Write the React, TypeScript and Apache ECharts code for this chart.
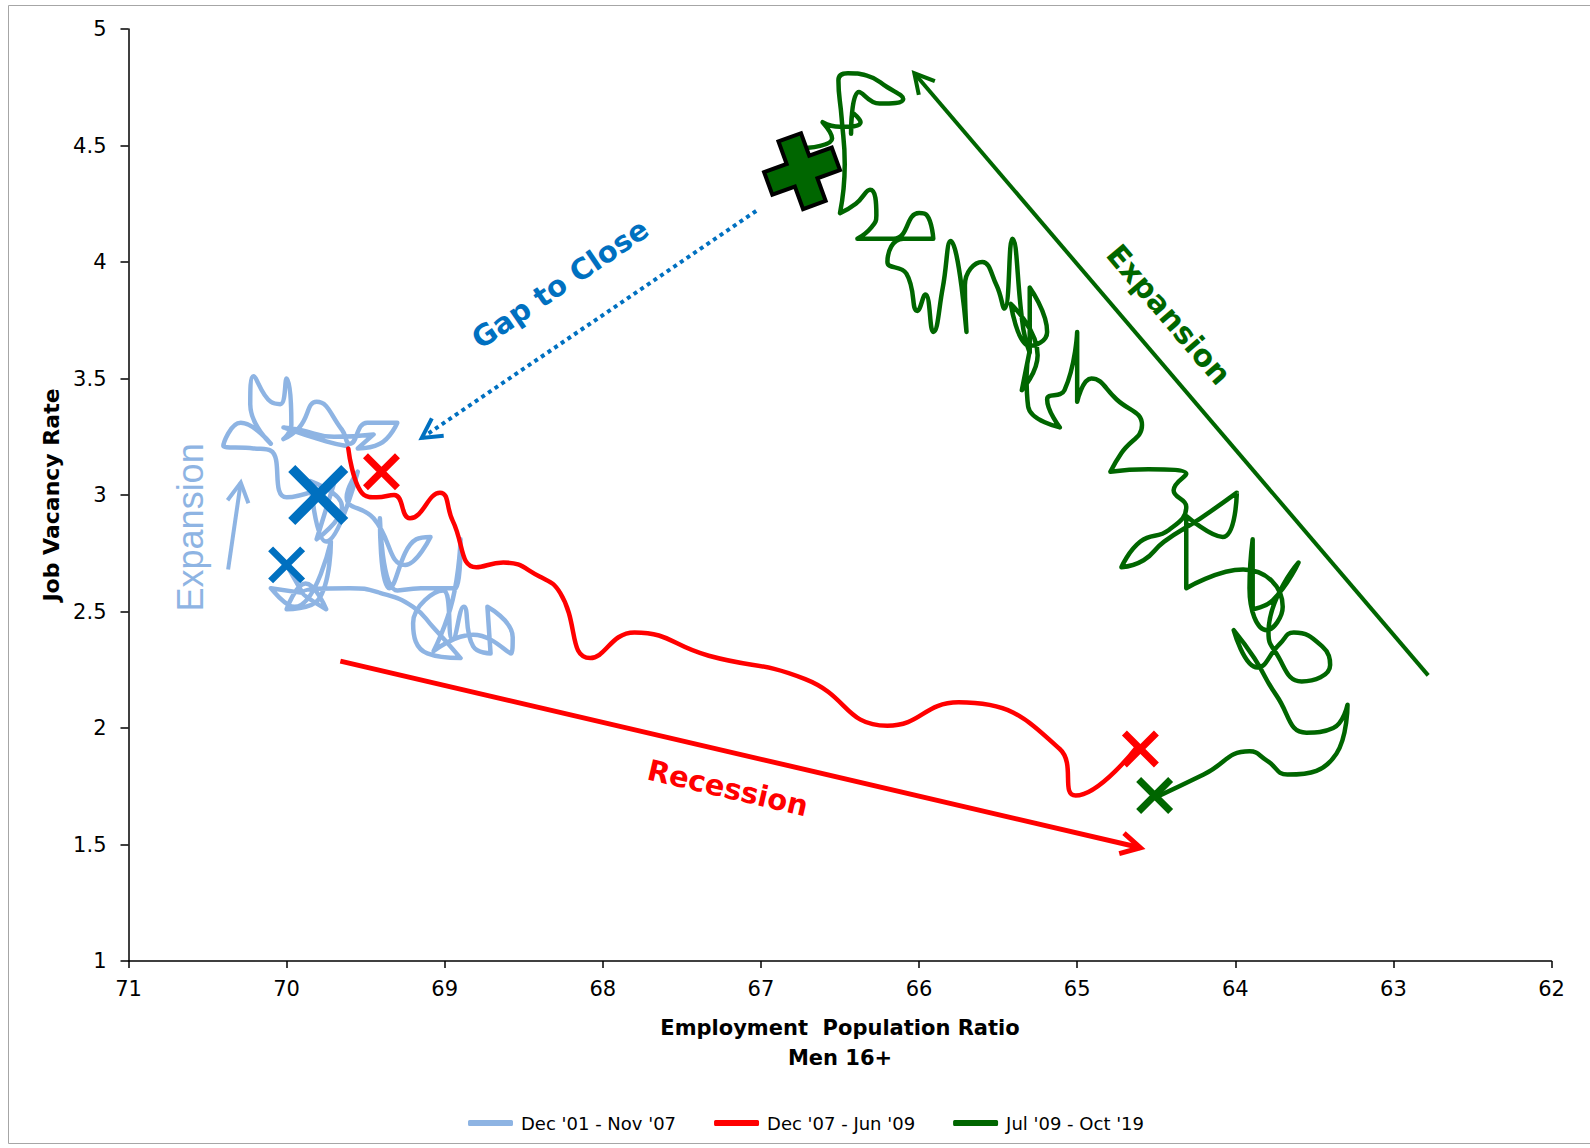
import React, { useEffect, useRef } from "react";
import * as echarts from "echarts";

// ---- axes ----
const X_MIN = 62;
const X_MAX = 71;
const X_STEP = 1;
const Y_MIN = 1;
const Y_MAX = 5;
const Y_STEP = 0.5;

const X_TITLE = "Employment  Population Ratio\nMen 16+";
const Y_TITLE = "Job Vacancy Rate";

// ---- series ----
const seriesNames = ["Dec '01 - Nov '07", "Dec '07 - Jun '09", "Jul '09 - Oct '19"];
const seriesColors = ["#8EB4E3", "#FF0000", "#006600"];

// [employment population ratio, job vacancy rate]
const expansion0107: number[][] = [
  [70.0, 2.7], [69.9, 2.58], [70.1, 2.6], [69.95, 2.52], [69.72, 2.8], [69.8, 2.55],
  [70.0, 2.51], [69.88, 2.62], [69.75, 2.51], [69.9, 2.58], [69.6, 2.6], [69.41, 2.58],
  [69.2, 2.52], [69.07, 2.43], [68.9, 2.3], [69.11, 2.32], [69.2, 2.45], [69.01, 2.59],
  [68.95, 2.38], [68.88, 2.52], [68.82, 2.35], [68.71, 2.32], [68.73, 2.52], [68.57, 2.39],
  [68.58, 2.32], [68.82, 2.4], [69.07, 2.33], [68.95, 2.55], [68.9, 2.81], [68.93, 2.6],
  [69.15, 2.6], [69.3, 2.59], [69.41, 2.9], [69.35, 2.6], [69.18, 2.81], [69.09, 2.82],
  [69.25, 2.7], [69.45, 2.9], [69.62, 2.99], [69.55, 3.1], [69.75, 2.8], [69.85, 3.06],
  [69.65, 2.95], [69.81, 2.81], [69.7, 3.05], [70.0, 2.99], [70.1, 3.19], [70.21, 3.2],
  [70.4, 3.21], [70.29, 3.31], [70.1, 3.22], [70.23, 3.39], [70.21, 3.51], [70.1, 3.4],
  [70.04, 3.39], [70.0, 3.5], [69.97, 3.3], [70.02, 3.24], [69.92, 3.29], [69.81, 3.4],
  [69.65, 3.28], [69.6, 3.22], [69.49, 3.31], [69.3, 3.31], [69.41, 3.22], [69.55, 3.2],
  [69.45, 3.26], [69.7, 3.25], [69.92, 3.28], [70.02, 3.29], [69.75, 3.23], [69.62, 3.21],
];

const recession0709: number[][] = [
  [69.61, 3.2], [69.51, 3.0], [69.43, 2.99], [69.32, 3.0], [69.22, 2.9], [69.03, 3.01],
  [68.95, 2.89], [68.8, 2.69], [68.63, 2.71], [68.4, 2.65], [68.27, 2.58], [68.08, 2.3],
  [67.8, 2.41], [67.33, 2.31], [66.72, 2.21], [66.2, 2.01], [65.75, 2.11], [65.11, 1.91],
  [65.01, 1.71], [64.62, 1.92],
];

const expansion0919: number[][] = [
  [64.51, 1.7], [64.2, 1.8], [63.91, 1.9], [63.8, 1.86], [63.67, 1.8], [63.36, 1.89],
  [63.29, 2.1], [63.38, 2.0], [63.55, 1.98], [63.74, 2.14], [63.88, 2.3], [64.01, 2.42],
  [63.86, 2.26], [63.72, 2.36], [63.63, 2.41], [63.45, 2.35], [63.4, 2.27], [63.58, 2.2],
  [63.75, 2.33], [63.79, 2.41], [63.6, 2.71], [63.76, 2.55], [63.89, 2.51], [63.89, 2.81],
  [63.91, 2.6], [63.8, 2.42], [63.7, 2.52], [63.95, 2.68], [64.31, 2.6], [64.31, 2.91],
  [64.08, 2.82], [63.99, 3.01], [64.22, 2.9], [64.45, 2.8], [64.58, 2.72], [64.72, 2.69],
  [64.6, 2.8], [64.42, 2.85], [64.31, 2.95], [64.39, 3.02], [64.31, 3.09], [64.55, 3.11],
  [64.79, 3.1], [64.72, 3.18], [64.59, 3.3], [64.75, 3.41], [64.91, 3.5], [65.0, 3.4],
  [65.0, 3.7], [65.08, 3.45], [65.19, 3.41], [65.11, 3.29], [65.31, 3.38], [65.32, 3.51],
  [65.3, 3.62], [65.35, 3.45], [65.25, 3.6], [65.42, 3.82], [65.3, 3.64], [65.19, 3.7],
  [65.3, 3.89], [65.3, 3.61], [65.34, 3.71], [65.41, 4.1], [65.46, 3.8], [65.51, 3.9],
  [65.6, 4.0], [65.71, 3.9], [65.7, 3.7], [65.8, 4.09], [65.85, 3.89], [65.91, 3.7],
  [65.96, 3.86], [66.01, 3.79], [66.08, 3.95], [66.2, 4.0], [66.1, 4.1], [65.91, 4.1],
  [65.95, 4.2], [66.0, 4.21], [66.16, 4.1], [66.39, 4.1], [66.3, 4.15], [66.27, 4.2],
  [66.31, 4.31], [66.4, 4.25], [66.5, 4.21], [66.47, 4.42], [66.49, 4.62], [66.51, 4.78],
  [66.45, 4.81], [66.33, 4.8], [66.2, 4.75], [66.1, 4.7], [66.25, 4.68], [66.38, 4.73],
  [66.43, 4.55], [66.42, 4.64], [66.37, 4.6], [66.5, 4.58], [66.61, 4.6], [66.55, 4.53],
  [66.7, 4.49],
];

// ---- highlighted points ----
const blueBigMark = [[69.8, 3.0]];
const blueSmallMark = [[70.0, 2.7]];
const redMarks = [[69.4, 3.1], [64.6, 1.91]];
const greenMark = [[64.51, 1.71]];
const targetMark = [[66.74, 4.39]];

// ---- annotations (data coordinates) ----
const recessionArrow = [[69.66, 2.287], [64.6, 1.486]];
const greenArrow = [[62.78, 2.226], [66.03, 4.81]];
const gapArrow = [[67.03, 4.219], [69.145, 3.245]];
const lightArrow = [[70.37, 2.68], [70.29, 3.053]];

const gapLabel = { text: "Gap to Close", at: [68.27, 3.906] };
const recessionLabel = { text: "Recession", at: [67.21, 1.742] };
const greenLabel = { text: "Expansion", at: [64.42, 3.775] };
const lightLabel = { text: "Expansion", at: [70.61, 2.861] };

const X_PATH = "path://M0,0 L10,10 M10,0 L0,10";
const PLUS_PATH = "path://M8,0 H16 V8 H24 V16 H16 V24 H8 V16 H0 V8 H8 Z";

export default function App() {
  const ref = useRef<HTMLDivElement>(null);

  useEffect(() => {
    if (!ref.current) return;
    const chart = echarts.init(ref.current, null, { renderer: "svg" });

    const lineSeries = (idx: number, data: number[][]) => ({
      name: seriesNames[idx],
      type: "line",
      data,
      smooth: 0.5,
      symbol: "none",
      showSymbol: false,
      silent: true,
      color: seriesColors[idx],
      itemStyle: { color: seriesColors[idx] },
      lineStyle: { color: seriesColors[idx], width: 4.5, cap: "round", join: "round" },
      z: 2 + idx,
    });

    const markSeries = (data: number[][], color: string, size: number, width: number) => ({
      type: "scatter",
      data,
      symbol: X_PATH,
      symbolSize: size,
      silent: true,
      itemStyle: { color: color, borderColor: color, borderWidth: width, opacity: 1 },
      z: 10,
    });

    const option: any = {
      animation: false,
      backgroundColor: "#ffffff",
      grid: { left: 128.5, right: 38.5, top: 29, bottom: 187, containLabel: false },
      xAxis: {
        type: "value",
        inverse: true,
        min: X_MIN,
        max: X_MAX,
        interval: X_STEP,
        axisLine: { show: true, onZero: false, lineStyle: { color: "#000", width: 1.5 } },
        axisTick: { show: true, length: 7, lineStyle: { color: "#000", width: 1.5 } },
        axisLabel: { color: "#000", fontSize: 21, fontFamily: "DejaVu Sans", margin: 17 },
        splitLine: { show: false },
        name: X_TITLE,
        nameLocation: "middle",
        nameGap: 52,
        nameTextStyle: {
          color: "#000",
          fontSize: 21,
          fontWeight: "bold",
          fontFamily: "DejaVu Sans",
          lineHeight: 30,
        },
      },
      yAxis: {
        type: "value",
        min: Y_MIN,
        max: Y_MAX,
        interval: Y_STEP,
        axisLine: { show: true, onZero: false, lineStyle: { color: "#000", width: 1.5 } },
        axisTick: { show: true, length: 8, lineStyle: { color: "#000", width: 1.5 } },
        axisLabel: { color: "#000", fontSize: 21, fontFamily: "DejaVu Sans", margin: 22 },
        splitLine: { show: false },
        name: Y_TITLE,
        nameLocation: "middle",
        nameGap: 63,
        nameTextStyle: {
          color: "#000",
          fontSize: 22,
          fontWeight: "bold",
          fontFamily: "DejaVu Sans",
        },
      },
      legend: {
        left: 463,
        top: 1109,
        itemWidth: 45,
        itemHeight: 6,
        itemGap: 38,
        icon: "roundRect",
        selectedMode: false,
        data: seriesNames,
        textStyle: { color: "#000", fontSize: 18, fontFamily: "DejaVu Sans", padding: [0, 0, 0, 3] },
      },
      series: [
        lineSeries(0, expansion0107),
        lineSeries(1, recession0709),
        lineSeries(2, expansion0919),
        markSeries(blueBigMark, "#0070C0", 53, 10),
        markSeries(blueSmallMark, "#0070C0", 32, 7),
        markSeries(redMarks, "#FF0000", 32, 7),
        markSeries(greenMark, "#006600", 32, 7),
        {
          type: "scatter",
          data: targetMark,
          symbol: PLUS_PATH,
          symbolSize: 72,
          symbolRotate: 20,
          silent: true,
          itemStyle: { color: "#006600", borderColor: "#000", borderWidth: 4, opacity: 1 },
          z: 11,
        },
      ],
    };

    chart.setOption(option);

    const px = (p: number[]) => chart.convertToPixel({ gridIndex: 0 }, p) as number[];

    const arrow = (pts: number[][], color: string, width: number, dash?: number[]) => {
      const a = px(pts[0]);
      const b = px(pts[1]);
      const ang = Math.atan2(b[1] - a[1], b[0] - a[0]);
      const L = 22;
      const h = 0.5;
      const p1 = [b[0] - L * Math.cos(ang - h), b[1] - L * Math.sin(ang - h)];
      const p2 = [b[0] - L * Math.cos(ang + h), b[1] - L * Math.sin(ang + h)];
      return [
        {
          type: "line",
          silent: true,
          shape: { x1: a[0], y1: a[1], x2: b[0], y2: b[1] },
          style: { stroke: color, lineWidth: width, lineDash: dash || null, fill: null },
          z: 5,
        },
        {
          type: "polyline",
          silent: true,
          shape: { points: [p1, b, p2] },
          style: { stroke: color, lineWidth: width, fill: null },
          z: 5,
        },
      ];
    };

    const angleOf = (pts: number[][]) => {
      const a = px(pts[0]);
      const b = px(pts[1]);
      let dx = b[0] - a[0];
      let dy = b[1] - a[1];
      if (dx < 0) {
        dx = -dx;
        dy = -dy;
      }
      return -Math.atan2(dy, dx);
    };

    const label = (
      lab: { text: string; at: number[] },
      rotation: number,
      color: string,
      size: number,
      weight: string,
      family: string
    ) => {
      const p = px(lab.at);
      return {
        type: "text",
        silent: true,
        x: p[0],
        y: p[1],
        rotation,
        z: 6,
        style: {
          text: lab.text,
          fill: color,
          fontSize: size,
          fontWeight: weight,
          fontFamily: family,
          align: "center",
          verticalAlign: "middle",
          textAlign: "center",
          textVerticalAlign: "middle",
        },
      };
    };

    const elements: any[] = [
      {
        type: "rect",
        silent: true,
        z: -1,
        shape: { x: 8.5, y: 5.5, width: 1600, height: 1138 },
        style: { fill: null, stroke: "#A6A6A6", lineWidth: 1 },
      },
      ...arrow(recessionArrow, "#FF0000", 5),
      ...arrow(greenArrow, "#006600", 4),
      ...arrow(gapArrow, "#0070C0", 4, [4, 4]),
      ...arrow(lightArrow, "#8EB4E3", 4),
      label(gapLabel, angleOf(gapArrow), "#0070C0", 29, "bold", "DejaVu Sans"),
      label(recessionLabel, angleOf(recessionArrow), "#FF0000", 29, "bold", "DejaVu Sans"),
      label(greenLabel, angleOf(greenArrow), "#006600", 30, "bold", "DejaVu Sans"),
      label(lightLabel, Math.PI / 2, "#8EB4E3", 36, "normal", "Liberation Sans"),
    ];

    chart.setOption({ graphic: { elements } });

    return () => {
      chart.dispose();
    };
  }, []);

  return (
    <div
      ref={ref}
      style={{ position: "absolute", left: 0, top: 0, width: 1590, height: 1148, background: "#fff" }}
    />
  );
}
